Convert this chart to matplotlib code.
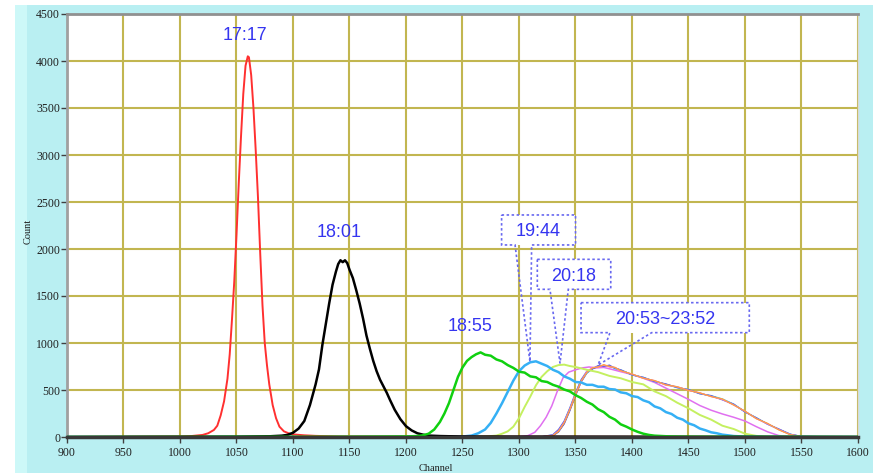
import matplotlib
matplotlib.use('Agg')
import matplotlib.pyplot as plt
from matplotlib.patches import Polygon, Rectangle

# ---- data (channel, count) ----
red_ch = [900, 1000, 1010, 1020, 1025, 1030, 1033, 1036, 1039, 1042, 1044, 1046, 1048, 1050,
          1052, 1054, 1056, 1058, 1059, 1060, 1061, 1063, 1065, 1067, 1069, 1071, 1073, 1075,
          1077, 1079, 1082, 1085, 1088, 1092, 1096, 1100, 1110, 1120, 1140, 1250, 1600]
red_cnt = [0, 5, 10, 22, 40, 75, 120, 230, 380, 620, 880, 1250, 1650, 2150,
           2700, 3200, 3650, 3950, 4000, 4050, 4040, 3850, 3500, 3050, 2550, 1950, 1400, 1000,
           760, 560, 340, 200, 110, 60, 40, 28, 18, 12, 6, 3, 0]

black_ch = [900, 1050, 1080, 1090, 1095, 1100, 1105, 1110, 1115, 1120, 1123, 1126, 1129, 1132,
            1135, 1138, 1140, 1142, 1144, 1146, 1148, 1150, 1153, 1156, 1159, 1162, 1165, 1168,
            1171, 1174, 1177, 1180, 1183, 1186, 1190, 1195, 1200, 1205, 1210, 1215, 1220, 1230,
            1250, 1600]
black_cnt = [0, 3, 8, 14, 22, 45, 90, 170, 340, 560, 720, 980, 1200, 1420,
             1620, 1760, 1840, 1880, 1860, 1880, 1850, 1780, 1690, 1560, 1420, 1260, 1080, 940,
             810, 700, 610, 540, 470, 390, 290, 190, 115, 70, 40, 25, 15, 10,
             5, 0]

green_ch = [900, 1150, 1200, 1210, 1215, 1220, 1225, 1230, 1234, 1238, 1242, 1246, 1250, 1254,
            1258, 1262, 1266, 1270, 1275, 1280, 1285, 1290, 1295, 1300, 1305, 1310, 1315, 1320,
            1325, 1330, 1335, 1340, 1345, 1350, 1355, 1360, 1365, 1370, 1375, 1380, 1385, 1390,
            1395, 1400, 1405, 1410, 1415, 1420, 1430, 1440, 1460, 1600]
green_cnt = [0, 3, 6, 10, 18, 35, 80, 160, 250, 360, 500, 640, 740, 810,
             850, 880, 900, 875, 865, 825, 805, 765, 735, 695, 685, 645, 635, 595,
             585, 555, 535, 505, 485, 445, 415, 375, 345, 295, 265, 215, 185, 135,
             110, 80, 55, 35, 22, 14, 8, 4, 2, 0]

blue_ch = [900, 1200, 1250, 1258, 1264, 1270, 1275, 1280, 1285, 1290, 1295, 1300, 1305, 1310,
           1315, 1320, 1325, 1330, 1335, 1340, 1345, 1350, 1355, 1360, 1365, 1370, 1375, 1380,
           1385, 1390, 1395, 1400, 1405, 1410, 1415, 1420, 1425, 1430, 1435, 1440, 1445, 1450,
           1455, 1460, 1465, 1470, 1475, 1480, 1485, 1490, 1500, 1520, 1600]
blue_cnt = [0, 2, 5, 15, 40, 80, 150, 250, 360, 480, 600, 700, 760, 795,
            805, 780, 755, 715, 690, 645, 620, 585, 580, 555, 555, 535, 535, 510,
            505, 475, 465, 435, 425, 390, 370, 325, 305, 265, 245, 205, 185, 145,
            125, 90, 72, 50, 40, 25, 18, 10, 5, 2, 0]

yg_ch = [900, 1250, 1270, 1280, 1285, 1290, 1295, 1300, 1305, 1310, 1315, 1320, 1325, 1330,
         1335, 1340, 1345, 1350, 1360, 1370, 1380, 1390, 1400, 1410, 1420, 1430, 1440, 1450,
         1460, 1470, 1480, 1490, 1500, 1510, 1520, 1600]
yg_cnt = [0, 2, 5, 15, 35, 60, 110, 200, 320, 430, 550, 640, 700, 745,
          765, 770, 755, 745, 715, 690, 650, 625, 585, 560, 485, 435, 365, 305,
          235, 185, 120, 85, 35, 12, 4, 0]

violet_ch = [900, 1300, 1308, 1314, 1319, 1324, 1329, 1334, 1339, 1344, 1350, 1356, 1362, 1368,
             1375, 1382, 1390, 1400, 1410, 1420, 1430, 1440, 1450, 1460, 1470, 1480, 1490, 1500,
             1510, 1520, 1530, 1540, 1600]
violet_cnt = [0, 2, 15, 50, 120, 210, 330, 490, 630, 690, 715, 735, 745, 735,
              740, 720, 695, 665, 625, 580, 520, 460, 400, 335, 285, 245, 210, 170,
              110, 55, 15, 4, 0]

# 20:53 ~ 23:52 spectra, all nearly on top of each other
bunch_ch = [900, 1320, 1330, 1335, 1340, 1345, 1350, 1355, 1360, 1365, 1370, 1375, 1380, 1385,
            1390, 1400, 1410, 1420, 1430, 1440, 1450, 1460, 1470, 1480, 1490, 1500, 1510, 1520,
            1530, 1540, 1550, 1600]
bunch_cnt = {
    '#3030C0': [0, 1, 12, 55, 140, 280, 440, 585, 680, 725, 750, 760, 750, 735,
                710, 665, 630, 595, 560, 530, 500, 465, 435, 400, 345, 270, 200, 140,
                80, 28, 5, 0],
    '#40E0F0': [0, 2, 22, 75, 165, 305, 465, 605, 680, 730, 755, 755, 760, 725,
                715, 660, 635, 590, 560, 525, 505, 460, 440, 405, 350, 268, 205, 138,
                82, 30, 5, 0],
    '#7060E0': [0, 3, 25, 80, 170, 310, 470, 610, 700, 725, 760, 750, 765, 730,
                715, 660, 635, 590, 565, 525, 505, 460, 440, 395, 350, 265, 205, 135,
                85, 30, 6, 0],
    '#FF80C8': [0, 2, 18, 65, 155, 295, 455, 590, 695, 740, 745, 765, 745, 740,
                700, 670, 625, 600, 550, 535, 495, 470, 430, 400, 340, 275, 195, 140,
                78, 26, 5, 0],
    '#FFA040': [0, 2, 15, 60, 150, 290, 450, 595, 685, 735, 745, 770, 750, 740,
                705, 670, 625, 600, 555, 535, 495, 470, 430, 405, 340, 275, 195, 145,
                75, 25, 4, 0],
}

x_ticks = list(range(900, 1601, 50))
y_ticks = list(range(0, 4501, 500))

W, H = 873, 473
fig = plt.figure(figsize=(W / 100, H / 100), dpi=100)
fig.patch.set_facecolor('white')
# cyan frame around the plot
fig.patches.append(Rectangle((15 / W, 0), 1 - 15 / W, 1 - 5 / H, transform=fig.transFigure,
                             facecolor='#B9EFF2', edgecolor='none', zorder=-2))
fig.patches.append(Rectangle((15 / W, 0), 12 / W, 1 - 5 / H, transform=fig.transFigure,
                             facecolor='#CDF8F8', edgecolor='none', zorder=-1))

ax = fig.add_axes([67 / W, 1 - 437 / H, 791 / W, 423 / H])
ax.set_facecolor('white')

ax.plot(red_ch, red_cnt, color='#FF3030', lw=1.4, zorder=4)
ax.plot(black_ch, black_cnt, color='black', lw=1.8, zorder=4)
ax.plot(green_ch, green_cnt, color='#10D010', lw=1.8, zorder=4)
ax.plot(violet_ch, violet_cnt, color='#E070F0', lw=1.1, zorder=3)
for c, v in bunch_cnt.items():
    ax.plot(bunch_ch, v, color=c, lw=0.9, zorder=3)
ax.plot(yg_ch, yg_cnt, color='#C4F060', lw=1.4, zorder=3)
ax.plot(blue_ch, blue_cnt, color='#35B0F5', lw=1.8, zorder=3)

ax.set_xlim(900, 1600)
ax.set_ylim(0, 4500)
ax.set_xticks(x_ticks)
ax.set_yticks(y_ticks)
ax.grid(True, color='#C2B650', lw=1.5, zorder=0)
ax.set_axisbelow(True)

ax.tick_params(direction='out', length=4, width=1, color='#404040', labelsize=8.5,
               labelcolor='#202020')
ax.tick_params(axis='x', pad=3)
ax.tick_params(axis='y', pad=1)
for lab in ax.get_xticklabels() + ax.get_yticklabels():
    lab.set_family('Liberation Serif')

ax.spines['left'].set_color('#A0A0A0')
ax.spines['left'].set_linewidth(2)
ax.spines['top'].set_color('#909090')
ax.spines['top'].set_linewidth(2)
ax.spines['right'].set_color('#D8D8D8')
ax.spines['right'].set_linewidth(1)
ax.spines['bottom'].set_color('#383838')
ax.spines['bottom'].set_linewidth(2.5)
ax.spines['bottom'].set_zorder(6)

ax.set_xlabel('Channel', family='Liberation Serif', fontsize=7.5, color='#202020')
ax.set_ylabel('Count', family='Liberation Serif', fontsize=7.5, color='#202020')
ax.xaxis.set_label_coords(0.466, -0.064)
ax.yaxis.set_label_coords(-0.044, 0.485)

lab_kw = dict(color='#3535F0', fontsize=13, family='Liberation Sans', ha='center', va='center')
ax.text(1057.5, 4266, '17:17', **lab_kw)
ax.text(1140.7, 2176, '18:01', **lab_kw)
ax.text(1256.6, 1173, '18:55', **lab_kw)


def callout(text, x0, x1, y0, y1, wa, wb, tip, ty):
    ax.add_patch(Rectangle((x0, y0), x1 - x0, y1 - y0, facecolor='white', edgecolor='none', zorder=5))
    verts = [(x0, y1), (x1, y1), (x1, y0), (wb, y0), tip, (wa, y0), (x0, y0)]
    ax.add_patch(Polygon(verts, closed=True, fill=False, edgecolor='#6868F0', lw=1.2,
                         linestyle=(0, (1.5, 1.5)), zorder=6))
    ax.text((x0 + x1) / 2, ty, text, zorder=7, **lab_kw)


callout('19:44', 1284.6, 1350, 2043, 2362, 1296.5, 1311.2, (1309.7, 801), 2181)
callout('20:18', 1316.2, 1381.2, 1571, 1890, 1327.4, 1343.6, (1336.3, 784), 1705)
callout('20:53~23:52', 1354.9, 1503.8, 1110, 1429, 1380.5, 1417.4, (1370, 766), 1245)

fig.savefig('out.png', dpi=100)
